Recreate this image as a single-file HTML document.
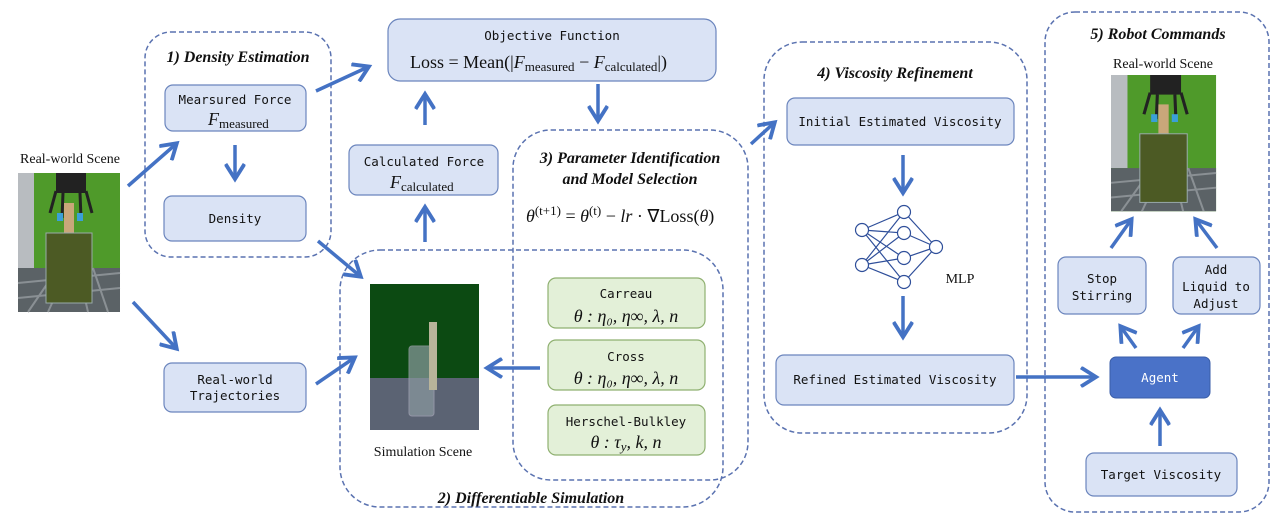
<!DOCTYPE html>
<html><head><meta charset="utf-8"><style>
html,body{margin:0;padding:0;background:#fff;}
svg{display:block}
.m{font-family:"DejaVu Sans Mono","Liberation Mono",monospace;font-size:12.5px;fill:#111;}
.t{font-family:"Liberation Serif",serif;font-style:italic;font-weight:bold;font-size:16px;fill:#111;}
.s{font-family:"Liberation Serif",serif;font-size:14px;fill:#111;}
.mi{font-family:"Liberation Serif",serif;font-style:italic;font-size:18px;fill:#111;}
.mr{font-family:"Liberation Serif",serif;font-size:18px;fill:#111;}
.sub{font-family:"Liberation Serif",serif;font-size:13px;fill:#111;}
.b{fill:#dae3f5;stroke:#6b85bd;stroke-width:1.2;}
.g{fill:#e3f0d8;stroke:#8fb070;stroke-width:1.2;}
.d{fill:none;stroke:#5a72b0;stroke-width:1.5;stroke-dasharray:5,3;}
.a{stroke:#4472c4;stroke-width:3.5;fill:none;marker-end:url(#ah);}
</style></head><body>
<svg width="1280" height="525" viewBox="0 0 1280 525" xmlns="http://www.w3.org/2000/svg">
<defs>
<marker id="ah" markerWidth="6" markerHeight="6" refX="4.5" refY="3" orient="auto" markerUnits="strokeWidth">
<path d="M0.5,0.3 L4.8,3 L0.5,5.7" fill="none" stroke="#4472c4" stroke-width="1.1"/>
</marker>
<g id="photo">
<rect x="0" y="0" width="102" height="139" fill="#4f9a2a"/>
<rect x="0" y="0" width="16" height="95" fill="#b8bcc0"/>
<rect x="0" y="95" width="102" height="44" fill="#5b6266"/>
<path d="M0,110 L102,100 M0,125 L102,115 M10,139 L40,95 M30,139 L50,95 M70,139 L60,95 M90,139 L75,95" stroke="#8a9094" stroke-width="2"/>
<rect x="38" y="0" width="30" height="20" fill="#222"/>
<path d="M38,18 L32,40 M68,18 L74,40 M45,20 L44,45 M62,20 L63,45" stroke="#222" stroke-width="3"/>
<rect x="46" y="30" width="10" height="50" fill="#c9a77a"/>
<rect x="39" y="40" width="6" height="8" fill="#3aa0d8"/><rect x="59" y="40" width="6" height="8" fill="#3aa0d8"/>
<rect x="28" y="60" width="46" height="70" fill="#4c5a24" stroke="#9aa" stroke-width="1"/>
</g>
</defs>

<rect class="d" x="145" y="32" width="186" height="225" rx="26"/>
<rect class="d" x="340" y="250" width="383" height="257" rx="40"/>
<rect class="d" x="513" y="130" width="235" height="350" rx="38"/>
<rect class="d" x="764" y="42" width="263" height="391" rx="38"/>
<rect class="d" x="1045" y="12" width="224" height="500" rx="30"/>

<text class="t" x="238" y="62" text-anchor="middle">1) Density Estimation</text>
<text class="t" x="531" y="503" text-anchor="middle">2) Differentiable Simulation</text>
<text class="t" x="630" y="163" text-anchor="middle">3) Parameter Identification</text>
<text class="t" x="630" y="184" text-anchor="middle">and Model Selection</text>
<text class="t" x="895" y="78" text-anchor="middle">4) Viscosity Refinement</text>
<text class="t" x="1158" y="39" text-anchor="middle">5) Robot Commands</text>

<text class="s" x="70" y="163" text-anchor="middle">Real-world Scene</text>
<use href="#photo" x="18" y="173"/>
<text class="s" x="1163" y="68" text-anchor="middle">Real-world Scene</text>
<g transform="translate(1111,75) scale(1.03,0.98)"><use href="#photo"/></g>

<rect x="370" y="284" width="109" height="146" fill="#0c4a12"/>
<rect x="370" y="378" width="109" height="52" fill="#5b6373"/>
<rect x="409" y="346" width="25" height="70" rx="3" fill="#8b9aa0" opacity="0.7" stroke="#aab" stroke-width="1"/>
<rect x="429" y="322" width="8" height="68" fill="#b8b49a"/>
<text class="s" x="423" y="456" text-anchor="middle">Simulation Scene</text>

<rect class="b" x="165" y="85" width="141" height="46" rx="8"/>
<text class="m" x="235" y="104" text-anchor="middle">Mearsured Force</text>
<text x="208" y="125"><tspan class="mi">F</tspan><tspan class="sub" dy="3">measured</tspan></text>

<rect class="b" x="164" y="196" width="142" height="45" rx="8"/>
<text class="m" x="235" y="223" text-anchor="middle">Density</text>

<rect class="b" x="164" y="363" width="142" height="49" rx="8"/>
<text class="m" x="235" y="384" text-anchor="middle">Real-world</text>
<text class="m" x="235" y="400" text-anchor="middle">Trajectories</text>

<rect class="b" x="349" y="145" width="149" height="50" rx="8"/>
<text class="m" x="424" y="166" text-anchor="middle">Calculated Force</text>
<text x="390" y="188"><tspan class="mi">F</tspan><tspan class="sub" dy="3">calculated</tspan></text>

<rect class="b" x="388" y="19" width="328" height="62" rx="12"/>
<text class="m" x="552" y="40" text-anchor="middle">Objective Function</text>
<text x="410" y="68"><tspan class="mr">Loss = Mean(|</tspan><tspan class="mi">F</tspan><tspan class="sub" dy="3">measured</tspan><tspan class="mr" dy="-3"> − </tspan><tspan class="mi">F</tspan><tspan class="sub" dy="3">calculated</tspan><tspan class="mr" dy="-3">|)</tspan></text>

<text x="526" y="222"><tspan class="mi">θ</tspan><tspan class="sub" dy="-7">(t+1)</tspan><tspan class="mr" dy="7"> = </tspan><tspan class="mi">θ</tspan><tspan class="sub" dy="-7">(t)</tspan><tspan class="mr" dy="7"> − </tspan><tspan class="mi">lr</tspan><tspan class="mr"> · ∇Loss(</tspan><tspan class="mi">θ</tspan><tspan class="mr">)</tspan></text>

<rect class="g" x="548" y="278" width="157" height="50" rx="8"/>
<text class="m" x="626" y="298" text-anchor="middle">Carreau</text>
<text class="mi" x="626" y="322" text-anchor="middle">θ : η₀, η∞, λ, n</text>
<rect class="g" x="548" y="340" width="157" height="50" rx="8"/>
<text class="m" x="626" y="361" text-anchor="middle">Cross</text>
<text class="mi" x="626" y="384" text-anchor="middle">θ : η₀, η∞, λ, n</text>
<rect class="g" x="548" y="405" width="157" height="50" rx="8"/>
<text class="m" x="626" y="426" text-anchor="middle">Herschel-Bulkley</text>
<text class="mi" x="626" y="448" text-anchor="middle">θ : τ<tspan font-size="13" dy="3">y</tspan><tspan dy="-3">, k, n</tspan></text>

<rect class="b" x="787" y="98" width="227" height="47" rx="8"/>
<text class="m" x="900" y="126" text-anchor="middle">Initial Estimated Viscosity</text>
<rect class="b" x="776" y="355" width="238" height="50" rx="8"/>
<text class="m" x="895" y="384" text-anchor="middle">Refined Estimated Viscosity</text>

<g stroke="#2f4f9a" stroke-width="1.2" fill="none">
<path d="M862,230 L904,212 M862,230 L904,233 M862,230 L904,258 M862,230 L904,282 M862,265 L904,212 M862,265 L904,233 M862,265 L904,258 M862,265 L904,282 M904,212 L936,247 M904,233 L936,247 M904,258 L936,247 M904,282 L936,247"/>
<g fill="#fff"><circle cx="862" cy="230" r="6.5"/><circle cx="862" cy="265" r="6.5"/><circle cx="904" cy="212" r="6.5"/><circle cx="904" cy="233" r="6.5"/><circle cx="904" cy="258" r="6.5"/><circle cx="904" cy="282" r="6.5"/><circle cx="936" cy="247" r="6.5"/></g>
</g>
<text class="s" x="960" y="283" text-anchor="middle">MLP</text>

<rect class="b" x="1058" y="257" width="88" height="57" rx="8"/>
<text class="m" x="1102" y="283" text-anchor="middle">Stop</text>
<text class="m" x="1102" y="300" text-anchor="middle">Stirring</text>
<rect class="b" x="1173" y="257" width="87" height="57" rx="8"/>
<text class="m" x="1216" y="274" text-anchor="middle">Add</text>
<text class="m" x="1216" y="291" text-anchor="middle">Liquid to</text>
<text class="m" x="1216" y="308" text-anchor="middle">Adjust</text>
<rect x="1110" y="357" width="100" height="41" rx="6" fill="#4a72c8" stroke="#3a5ea8"/>
<text class="m" x="1160" y="382" text-anchor="middle" style="fill:#fff">Agent</text>
<rect class="b" x="1086" y="453" width="151" height="43" rx="8"/>
<text class="m" x="1161" y="479" text-anchor="middle">Target Viscosity</text>

<line class="a" x1="128" y1="186" x2="176" y2="144"/>
<line class="a" x1="133" y1="302" x2="176" y2="348"/>
<line class="a" x1="316" y1="91" x2="368" y2="67"/>
<line class="a" x1="235" y1="145" x2="235" y2="178"/>
<line class="a" x1="318" y1="241" x2="360" y2="276"/>
<line class="a" x1="316" y1="384" x2="354" y2="358"/>
<line class="a" x1="425" y1="125" x2="425" y2="95"/>
<line class="a" x1="425" y1="242" x2="425" y2="208"/>
<line class="a" x1="598" y1="84" x2="598" y2="120"/>
<line class="a" x1="751" y1="144" x2="774" y2="123"/>
<line class="a" x1="540" y1="368" x2="488" y2="368"/>
<line class="a" x1="903" y1="155" x2="903" y2="192"/>
<line class="a" x1="903" y1="296" x2="903" y2="336"/>
<line class="a" x1="1016" y1="377" x2="1095" y2="377"/>
<line class="a" x1="1160" y1="446" x2="1160" y2="411"/>
<line class="a" x1="1136" y1="348" x2="1121" y2="327"/>
<line class="a" x1="1183" y1="348" x2="1198" y2="327"/>
<line class="a" x1="1111" y1="248" x2="1131" y2="220"/>
<line class="a" x1="1217" y1="248" x2="1196" y2="220"/>
</svg>
</body></html>
